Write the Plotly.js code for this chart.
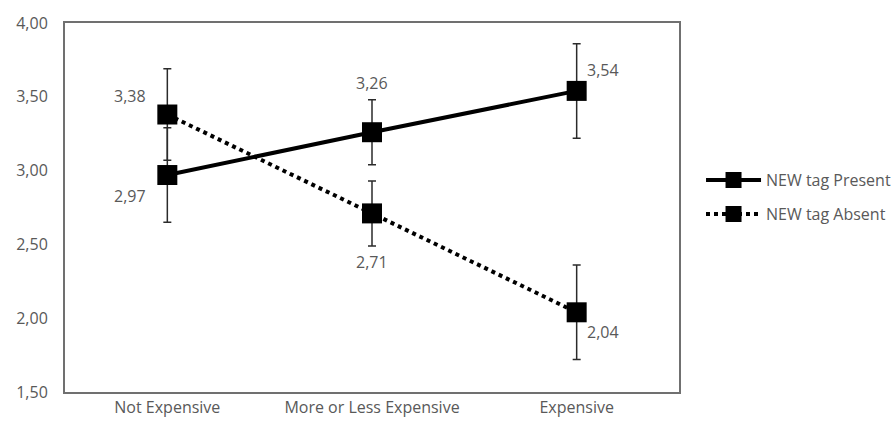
<!DOCTYPE html>
<html><head><meta charset="utf-8">
<script src="https://cdn.plot.ly/plotly-3.0.1.min.js"></script>
<style>html,body{margin:0;padding:0;background:#fff}#chart{width:896px;height:425px}</style>
</head><body><div id="chart"></div>
<script>
var categories = ["Not Expensive", "More or Less Expensive", "Expensive"];
var presentName = "NEW tag Present";
var absentName = "NEW tag Absent";
var presentValues = [2.97, 3.26, 3.54];
var absentValues = [3.38, 2.71, 2.04];
var presentErrors = [0.32, 0.22, 0.32];
var absentErrors = [0.31, 0.22, 0.32];
var yTicks = [1.5, 2.0, 2.5, 3.0, 3.5, 4.0];

// label offsets (pixels) — style only
var presentOffsets = [[-37, -21], [0, 49], [26, 21]];
var absentOffsets = [[-37, 19], [0, -49], [26, -20]];

var gray = '#595959';
var fontFam = 'Open Sans, Lato, sans-serif';
var fs = 16;

function mkTrace(name, vals, errs, dash, group) {
  return {
    x: categories, y: vals, name: name, type: 'scatter', mode: 'lines+markers',
    legendgroup: group,
    line: {color: '#000', width: 4, dash: dash},
    marker: {symbol: 'square', size: 20, color: '#000'},
    error_y: {type: 'data', array: errs, visible: true, color: '#2b2b2b', thickness: 1.5, width: 4}
  };
}

var traces = [
  mkTrace(presentName, presentValues, presentErrors, 'solid', 'a'),
  mkTrace(absentName, absentValues, absentErrors, 'dot', 'b')
];

function fmt(v) { return v.toFixed(2).replace('.', ','); }
var annotations = [];
function addLabels(vals, offs) {
  vals.forEach(function (v, i) {
    annotations.push({
      x: categories[i], y: v, xref: 'x', yref: 'y', text: fmt(v), showarrow: false,
      xshift: offs[i][0], yshift: offs[i][1],
      font: {family: fontFam, size: fs, color: gray}
    });
  });
}
addLabels(presentValues, presentOffsets);
addLabels(absentValues, absentOffsets);

var layout = {
  width: 896, height: 425,
  margin: {l: 65, r: 217, t: 23, b: 33},
  paper_bgcolor: '#fff', plot_bgcolor: '#fff',
  separators: ',.',
  font: {family: fontFam, size: fs, color: gray},
  showlegend: true,
  legend: {xref: 'container', yref: 'container', x: 0.7824, xanchor: 'left', y: 0.536, yanchor: 'middle',
           traceorder: 'grouped', tracegroupgap: 10, itemwidth: 55,
           font: {family: fontFam, size: fs, color: gray}, bgcolor: 'rgba(0,0,0,0)'},
  xaxis: {type: 'category', range: [-0.5, 2.5], showgrid: false, zeroline: false,
          showline: true, mirror: true, linecolor: '#707070', linewidth: 2, ticks: '',
          tickfont: {family: fontFam, size: fs, color: gray}},
  yaxis: {range: [1.5, 4.0], tickvals: yTicks, tickformat: '.2f', showgrid: false, zeroline: false,
          showline: true, mirror: true, linecolor: '#707070', linewidth: 2, ticks: '',
          ticklabelstandoff: 12,
          tickfont: {family: fontFam, size: fs, color: gray}},
  annotations: annotations
};

Plotly.newPlot('chart', traces, layout, {displayModeBar: false, staticPlot: true});
</script></body></html>
